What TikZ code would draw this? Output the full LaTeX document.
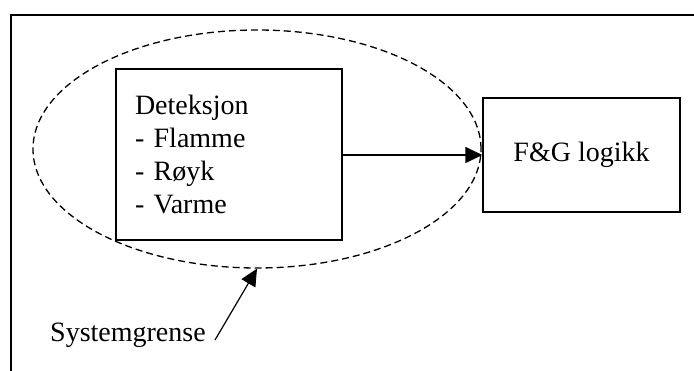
\documentclass[tikz,border=0pt]{standalone}
\usepackage{fontspec}
\setmainfont{Liberation Serif}
\usetikzlibrary{arrows.meta,shapes.geometric}
\begin{document}
\begin{tikzpicture}[x=1pt,y=-1pt,
  every node/.style={font=\fontsize{28}{33.3}\selectfont},
  boxnode/.style={draw,line width=1.2pt,inner sep=0pt},
  flow/.style={line width=1.2pt,-{Triangle[length=17pt,width=16pt]}},
  boundary/.style={ellipse,draw,line width=1.3pt,dash pattern=on 7pt off 4pt,inner sep=0pt}]
  \useasboundingbox (0,0) rectangle (694,371);
  % page frame
  \draw[line width=1.3pt] (11,371) -- (11,15) -- (694,15);
  % system boundary
  \node[boundary,minimum width=448pt,minimum height=238pt] (sys) at (257,149) {};
  % detection block
  \node[boxnode,minimum width=226pt,minimum height=171pt,text width=188pt,
        inner xsep=19pt,align=left] (det) at (229,154.5)
        {Deteksjon\\- Flamme\\- Røyk\\- Varme};
  % F&G logic block
  \node[boxnode,minimum width=197pt,minimum height=114pt] (fg) at (581.5,155) {F\&G logikk};
  \draw[flow] (det.east |- fg.west) -- (fg.west);
  % boundary label
  \node[anchor=base west,inner sep=0pt] (lbl) at (50,342) {Systemgrense};
  \coordinate (lblend) at (215,340);
  \draw[flow] (lblend) -- (sys.south);
\end{tikzpicture}
\end{document}
